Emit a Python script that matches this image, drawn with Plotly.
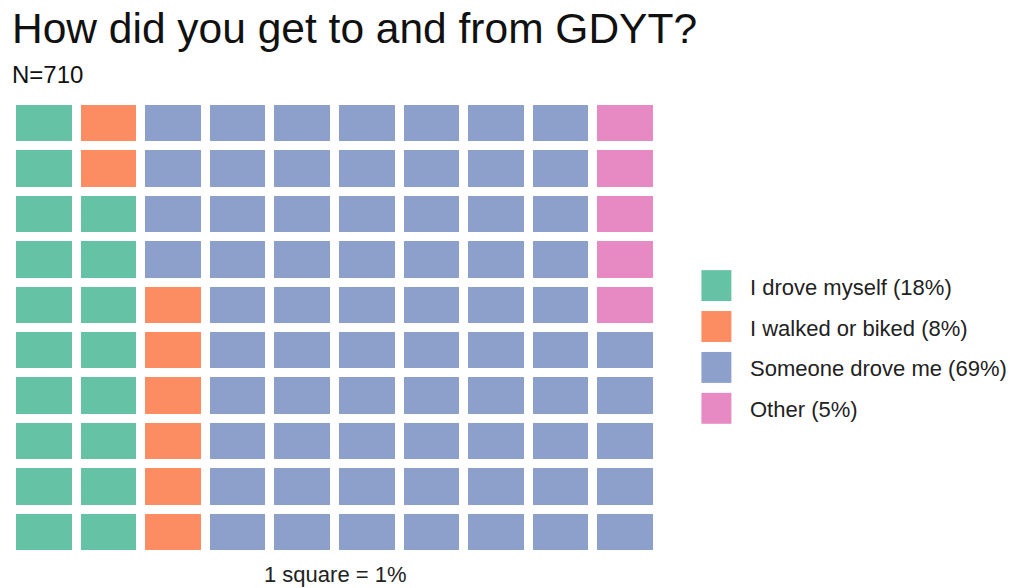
import plotly.graph_objects as go

categories = ["I drove myself", "I walked or biked", "Someone drove me", "Other"]
percents = [18, 8, 69, 5]
colors = ["#66c2a5", "#fc8d62", "#8da0cb", "#e78ac3"]
title_text = "How did you get to and from GDYT?"
subtitle_text = "N=710"
caption_text = "1 square = 1%"

n_rows = 10
n_cols = 10

# fill the grid column by column, bottom to top
cells = []
for i, p in enumerate(percents):
    cells += [i] * p
z = [[None] * n_cols for _ in range(n_rows)]
for k, c in enumerate(cells):
    z[k % n_rows][k // n_rows] = c

colorscale = []
n = len(colors)
for i, col in enumerate(colors):
    colorscale.append([i / n, col])
    colorscale.append([(i + 1) / n, col])

W, H = 1010, 588
L, R, T, B = 11.5, 351.5, 100.5, 32.5
pw, ph = W - L - R, H - T - B


def px_x(x):
    return (x - L) / pw


def px_y(y):
    return (H - B - y) / ph


fig = go.Figure()
fig.add_trace(
    go.Heatmap(
        z=z,
        x=list(range(n_cols)),
        y=list(range(n_rows)),
        colorscale=colorscale,
        zmin=-0.5,
        zmax=n - 0.5,
        xgap=9,
        ygap=9,
        showscale=False,
        hoverinfo="skip",
    )
)

shapes = []
annotations = []
for i, (cat, p) in enumerate(zip(categories, percents)):
    top = 270 + i * 41
    shapes.append(
        dict(
            type="rect",
            xref="paper",
            yref="paper",
            x0=px_x(702),
            x1=px_x(732),
            y0=px_y(top + 31),
            y1=px_y(top),
            fillcolor=colors[i],
            line_width=0,
        )
    )
    annotations.append(
        dict(
            text=f"{cat} ({p}%)",
            xref="paper",
            yref="paper",
            x=px_x(749),
            y=px_y(top + 17),
            xanchor="left",
            yanchor="middle",
            showarrow=False,
            font=dict(size=22, color="#222222"),
        )
    )

annotations.append(
    dict(
        text=title_text,
        xref="paper",
        yref="paper",
        x=px_x(9),
        y=px_y(53),
        xanchor="left",
        yanchor="bottom",
        showarrow=False,
        font=dict(size=42.5, color="#111111"),
    )
)
annotations.append(
    dict(
        text=subtitle_text,
        xref="paper",
        yref="paper",
        x=px_x(9),
        y=px_y(89),
        xanchor="left",
        yanchor="bottom",
        showarrow=False,
        font=dict(size=24, color="#111111"),
    )
)
annotations.append(
    dict(
        text=caption_text,
        xref="paper",
        yref="paper",
        x=0.5,
        y=px_y(561),
        xanchor="center",
        yanchor="top",
        showarrow=False,
        font=dict(size=22, color="#222222"),
    )
)

fig.update_layout(
    width=W,
    height=H,
    margin=dict(l=L, r=R, t=T, b=B),
    paper_bgcolor="white",
    plot_bgcolor="white",
    font=dict(family="Liberation Sans, Arial, sans-serif"),
    xaxis=dict(visible=False, range=[-0.5, n_cols - 0.5], fixedrange=True),
    yaxis=dict(visible=False, range=[-0.5, n_rows - 0.5], fixedrange=True),
    shapes=shapes,
    annotations=annotations,
    showlegend=False,
)

fig.write_html(
    "out.html",
    config={"displayModeBar": False},
    post_script="document.body.style.margin='0';",
)
